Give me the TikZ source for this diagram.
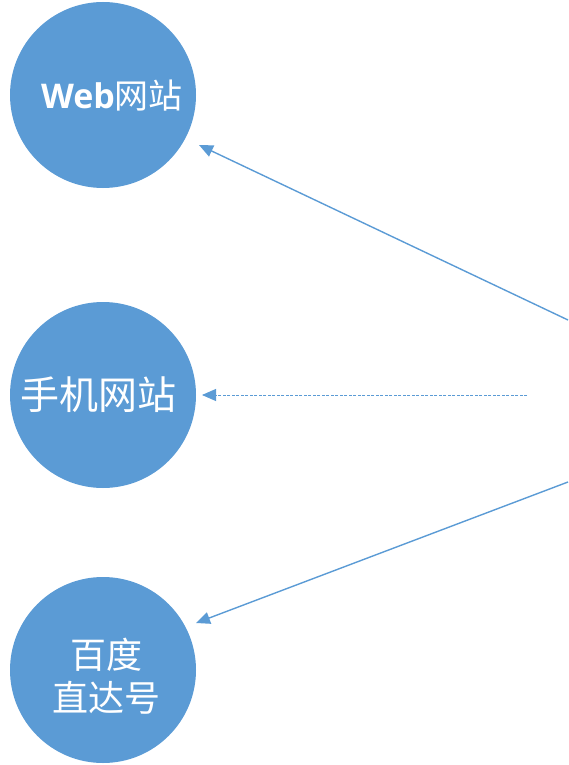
\documentclass[tikz,border=0pt]{standalone}
\usepackage{fontspec}
\newfontfamily\cjk{Noto Sans CJK SC}
\setmainfont{Open Sans}
\usetikzlibrary{arrows.meta}
\definecolor{cblue}{HTML}{5B9BD5}
\begin{document}
\begin{tikzpicture}[x=1pt,y=-1pt]
\useasboundingbox (0,0) rectangle (568,765);
\tikzset{
  bubble/.style={circle,fill=cblue,minimum size=186pt,inner sep=0pt},
  btext/.style={text=white,font=\cjk\fontsize{36}{43}\selectfont,align=center},
  link/.style={draw=cblue,line width=1.4pt,-{Triangle[length=14pt,width=12pt]}},
  dlink/.style={draw=cblue,line width=0.9pt,dash pattern=on 3pt off 1.5pt,-{Triangle[length=14pt,width=12pt]}}
}
\node[bubble] (web) at (103,95) {};
\node[bubble] (mob) at (103,395) {};
\node[bubble] (bd) at (103,670) {};
\node[btext,font=\cjk\fontsize{34}{43}\selectfont] (webt) at (112,96) {{\fontspec{Open Sans}\bfseries Web}网站};
\node[btext,font=\cjk\fontsize{39}{43}\selectfont] (mobt) at (98,395) {手机网站};
\node[btext] (bdt) at (106,676) {百度\\直达号};
\coordinate (s1) at (568,320);
\coordinate (t1) at (199,145);
\coordinate (s2) at (527,395);
\coordinate (t2) at (202,395);
\coordinate (s3) at (568,482);
\coordinate (t3) at (196,623);
\draw[link] (s1) -- (t1);
\draw[dlink] (s2) -- (t2);
\draw[link] (s3) -- (t3);
\end{tikzpicture}
\end{document}
